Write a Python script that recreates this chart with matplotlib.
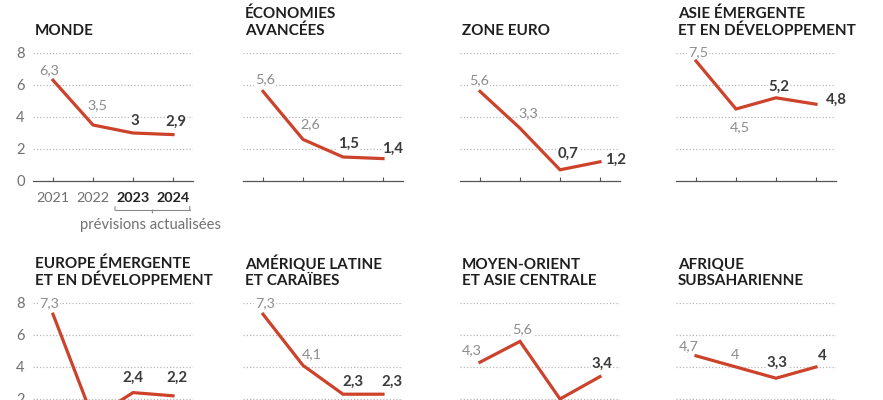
import matplotlib
matplotlib.use("Agg")
import matplotlib.pyplot as plt
import matplotlib.transforms as mtrans
from matplotlib.ticker import FixedLocator

plt.rcParams['font.family'] = ['Lato', 'DejaVu Sans']

# ---------------- data ----------------
years = [2021, 2022, 2023, 2024]
year_labels = ["2021", "2022", "2023", "2024"]
y_ticks = [0, 2, 4, 6, 8]
forecast_note = "prévisions actualisées"

titles = [
    "MONDE",
    "ÉCONOMIES\nAVANCÉES",
    "ZONE EURO",
    "ASIE ÉMERGENTE\nET EN DÉVELOPPEMENT",
    "EUROPE ÉMERGENTE\nET EN DÉVELOPPEMENT",
    "AMÉRIQUE LATINE\nET CARAÏBES",
    "MOYEN-ORIENT\nET ASIE CENTRALE",
    "AFRIQUE\nSUBSAHARIENNE",
]
monde = [6.3, 3.5, 3.0, 2.9]
avancees = [5.6, 2.6, 1.5, 1.4]
zone_euro = [5.6, 3.3, 0.7, 1.2]
asie = [7.5, 4.5, 5.2, 4.8]
europe = [7.3, 0.8, 2.4, 2.2]
amerique = [7.3, 4.1, 2.3, 2.3]
moyen_orient = [4.3, 5.6, 2.0, 3.4]
afrique = [4.7, 4.0, 3.3, 4.0]
series = [monde, avancees, zone_euro, asie, europe, amerique, moyen_orient, afrique]

# label offsets in pixels (dx, dy; dy positive = up)
label_offsets = [
    [(-4, 10), (4, 20), (2, 12), (3, 13)],
    [(2, 12), (7, 15), (6, 13), (10, 10)],
    [(-1, 11), (8, 15), (8, 16), (16, 2)],
    [(2, 9), (4, -18), (3, 11), (20, 4)],
    [(-4, 11), (0, -14), (0, 15), (4, 18)],
    [(2, 11), (9, 11), (10, 12), (9, 12)],
    [(-8, 12), (2, 12), (0, -14), (2, 13)],
    [(-7, 10), (-1, 12), (1, 15), (6, 11)],
]

# ---------------- layout ----------------
W, H = 883, 400
DPI = 100
fig = plt.figure(figsize=(W / DPI, H / DPI), dpi=DPI)
fig.patch.set_facecolor("white")

col_left = [33, 243, 460, 676]
row_zero = [181, 431]     # pixel y of value 0
ax_w = 160
ax_h = 128                # 0..8

RED = "#cc422b"
GRID = "#b8b8b8"
GRAY_TXT = "#8c8c8c"
DARK_TXT = "#3a3a3a"
TITLE_TXT = "#1e1e1e"
TICK_TXT = "#707070"
PX = 72.0 / DPI

def fmt(v):
    s = ("%.1f" % v)
    if s.endswith(".0"):
        s = s[:-2]
    return s.replace(".", ",")

for i, (title, vals) in enumerate(zip(titles, series)):
    r, c = divmod(i, 4)
    left = col_left[c]
    bottom = row_zero[r]
    ax = fig.add_axes([left / W, 1 - bottom / H, ax_w / W, ax_h / H])
    ax.set_xlim(2020.5, 2024.5)
    ax.set_ylim(0, 8)
    ax.set_facecolor("none")
    for s in ["top", "right", "left"]:
        ax.spines[s].set_visible(False)
    ax.spines["bottom"].set_color("#555555")
    ax.spines["bottom"].set_linewidth(0.9)
    ax.yaxis.set_major_locator(FixedLocator(y_ticks))
    ax.xaxis.set_major_locator(FixedLocator(years))
    for yv in y_ticks[1:]:
        ax.axhline(yv, color=GRID, lw=0.9, ls=(0, (1, 1.6)), zorder=1)
    ax.tick_params(axis="x", direction="in", length=3, width=0.8, color="#555555", pad=8)
    ax.tick_params(axis="y", length=0, pad=6)
    if i == 0:
        ax.set_xticklabels(year_labels)
        for k, t in enumerate(ax.get_xticklabels()):
            t.set_fontsize(10.4)
            if k >= 2:
                t.set_color("#222222")
                t.set_fontweight("bold")
            else:
                t.set_color(TICK_TXT)
        ax.set_yticklabels([str(v) for v in y_ticks], fontsize=10.6, color=TICK_TXT)
    elif i == 4:
        ax.set_xticklabels([])
        ax.set_yticklabels([str(v) for v in y_ticks], fontsize=10.6, color=TICK_TXT)
    else:
        ax.set_xticklabels([])
        ax.set_yticklabels([])

    ax.plot(years, vals, color=RED, lw=2.3, solid_joinstyle="miter", zorder=3,
            clip_on=False)

    for k, (x, v) in enumerate(zip(years, vals)):
        dx, dy = label_offsets[i][k]
        bold = k >= 2
        ax.annotate(fmt(v), xy=(x, v), xytext=(dx * PX, dy * PX),
                    textcoords="offset points", ha="center", va="center",
                    fontsize=10.8 if bold else 10.4,
                    fontweight="bold" if bold else "normal",
                    color=DARK_TXT if bold else GRAY_TXT, zorder=4,
                    annotation_clip=False,
                    bbox=dict(boxstyle="square,pad=0.05", fc="white", ec="none"))

    ax.annotate(title, xy=(0, 1), xycoords="axes fraction",
                xytext=(2 * PX, 18 * PX), textcoords="offset points",
                ha="left", va="baseline", fontsize=11.0, fontweight="bold",
                color=TITLE_TXT, linespacing=1.2, annotation_clip=False)

    if i == 0:
        trans = mtrans.blended_transform_factory(ax.transData, ax.transAxes)
        off = lambda px: mtrans.offset_copy(trans, fig=fig, y=-px * PX, units="points")
        x0, x1 = 2023 - 0.45, 2024 + 0.42
        xm = (x0 + x1) / 2
        kw = dict(color="#8a8a8a", lw=0.8, clip_on=False)
        ax.plot([x0, x1], [0, 0], transform=off(29), **kw)
        for xe in (x0, x1):
            ax.annotate("", xy=(xe, 0), xycoords=off(29), xytext=(xe, 0),
                        textcoords=off(25.5),
                        arrowprops=dict(arrowstyle="-", color="#8a8a8a", lw=0.8,
                                        shrinkA=0, shrinkB=0), annotation_clip=False)
        ax.annotate("", xy=(xm, 0), xycoords=off(29), xytext=(xm, 0),
                    textcoords=off(32),
                    arrowprops=dict(arrowstyle="-", color="#8a8a8a", lw=0.8,
                                    shrinkA=0, shrinkB=0), annotation_clip=False)
        ax.text(xm - 0.05, 0, forecast_note, transform=off(44), ha="center",
                va="center", fontsize=10.6, color=TICK_TXT)

fig.savefig("out.png", dpi=DPI, facecolor="white")
